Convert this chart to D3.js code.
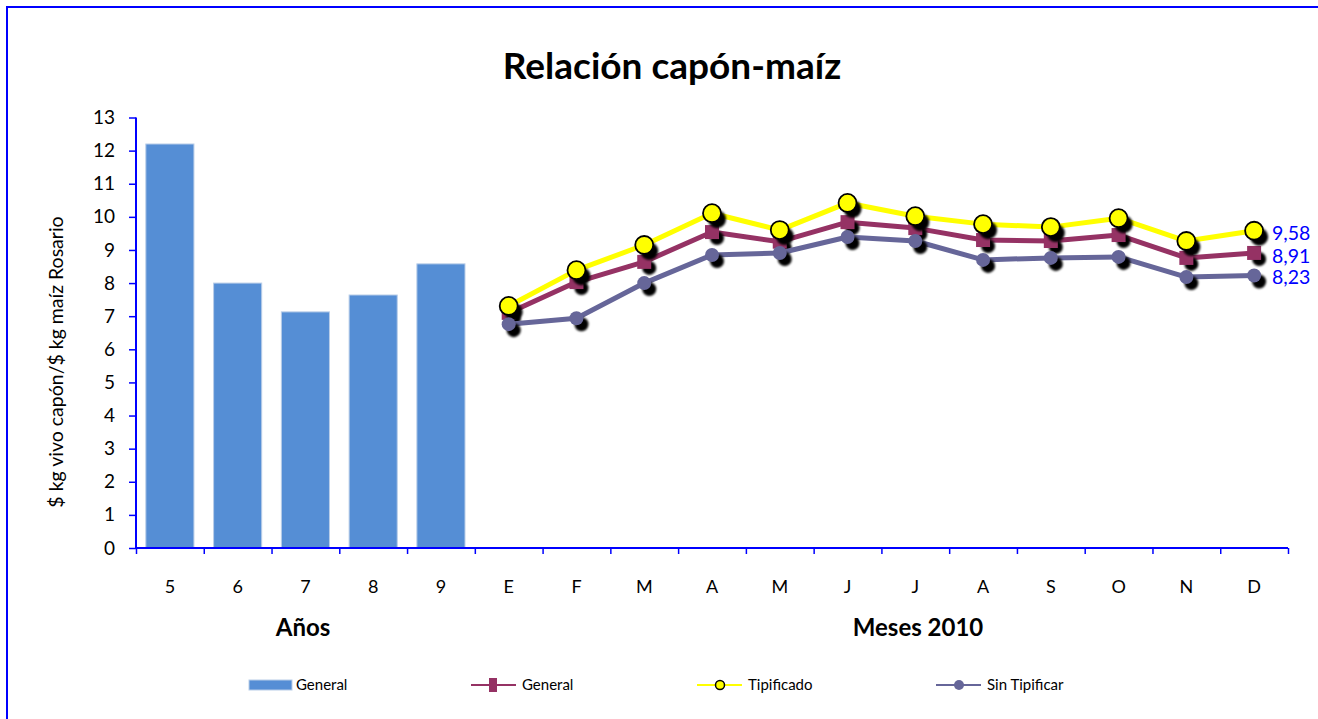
<!DOCTYPE html>
<html>
<head>
<meta charset="utf-8">
<style>
  body { margin: 0; background: #fff; overflow: hidden; }
  svg { display: block; }
  text { font-family: Lato, "Open Sans", sans-serif; }
</style>
</head>
<body>
<script src="https://cdn.jsdelivr.net/npm/d3@7/dist/d3.min.js"></script>
<script>
// data
const years = ["5", "6", "7", "8", "9"];
const yearValues = [12.2, 8.0, 7.13, 7.64, 8.58];
const months = ["E", "F", "M", "A", "M", "J", "J", "A", "S", "O", "N", "D"];
const general = [7.10, 8.03, 8.64, 9.54, 9.25, 9.84, 9.66, 9.30, 9.27, 9.45, 8.76, 8.91];
const tipificado = [7.31, 8.39, 9.15, 10.11, 9.60, 10.42, 10.02, 9.78, 9.69, 9.96, 9.27, 9.58];
const sinTipificar = [6.76, 6.94, 8.00, 8.85, 8.91, 9.39, 9.27, 8.70, 8.76, 8.79, 8.18, 8.23];
const yTicks = [0, 1, 2, 3, 4, 5, 6, 7, 8, 9, 10, 11, 12, 13];
const endLabels = ["9,58", "8,91", "8,23"];

const W = 1318, H = 719;
const plotLeft = 136, plotRight = 1288, plotTop = 117.5, plotBottom = 548;
const axisBlue = "#0000ff";

const svg = d3.select("body").append("svg")
    .attr("width", W)
    .attr("height", H);

const defs = svg.append("defs");
defs.append("filter").attr("id", "shadow")
    .attr("x", "-50%").attr("y", "-50%").attr("width", "200%").attr("height", "200%")
  .append("feGaussianBlur").attr("stdDeviation", 0.8);

// outer frame (only top and left edges fall inside the picture)
svg.append("path")
    .attr("d", `M7,${H + 5}V7H${W + 5}`)
    .attr("fill", "none")
    .attr("stroke", axisBlue)
    .attr("stroke-width", 2);

// clipped text above the frame
svg.append("text")
    .attr("x", 617).attr("y", -7)
    .attr("text-anchor", "middle")
    .attr("font-size", 24).attr("font-weight", "bold")
    .text("p");

const cats = years.concat(months);
const idx = d3.range(cats.length);

const x = d3.scaleBand().domain(idx).range([plotLeft, plotRight]).padding(0);
const xEdge = d3.scaleLinear().domain([0, cats.length]).range([plotLeft, plotRight]);
const y = d3.scaleLinear().domain([0, 13]).range([plotBottom, plotTop]);

// title
svg.append("text")
    .attr("x", 672).attr("y", 79)
    .attr("text-anchor", "middle")
    .attr("font-size", 37).attr("font-weight", "bold")
    .attr("fill", "#000")
    .text("Relación capón-maíz");

// bars
const barW = x.bandwidth() * 0.71;
svg.append("g").selectAll("rect")
    .data(yearValues)
    .join("rect")
    .attr("x", (d, i) => x(i) + (x.bandwidth() - barW) / 2)
    .attr("y", d => y(d))
    .attr("width", barW)
    .attr("height", d => y(0) - y(d))
    .attr("fill", "#558ed5")
    .attr("stroke", "#b9cde8")
    .attr("stroke-width", 1);

// y axis
const yAxis = svg.append("g")
    .attr("transform", `translate(${plotLeft},0)`)
    .call(d3.axisLeft(y).tickValues(yTicks).tickSize(7).tickPadding(14).tickFormat(d3.format("d")));
yAxis.select(".domain").attr("stroke", axisBlue).attr("stroke-width", 2)
    .attr("d", `M0,${plotTop}V${plotBottom}`);
yAxis.selectAll(".tick line").attr("stroke", axisBlue).attr("stroke-width", 1.5);
yAxis.selectAll(".tick text")
    .attr("font-family", "Lato, sans-serif")
    .attr("font-size", 19).attr("fill", "#000");

// x axis: ticks at category boundaries
const xAxis = svg.append("g")
    .attr("transform", `translate(0,${plotBottom})`)
    .call(d3.axisBottom(xEdge).tickValues(d3.range(cats.length + 1)).tickSize(6).tickFormat(""));
xAxis.select(".domain").attr("stroke", axisBlue).attr("stroke-width", 2)
    .attr("d", `M${plotLeft},0H${plotRight}`);
xAxis.selectAll(".tick line").attr("stroke", axisBlue).attr("stroke-width", 1.5);

svg.append("g").selectAll("text")
    .data(cats)
    .join("text")
    .attr("x", (d, i) => x(i) + x.bandwidth() / 2)
    .attr("y", 593)
    .attr("text-anchor", "middle")
    .attr("font-size", 18)
    .text(d => d);

// group titles
svg.append("text")
    .attr("x", 303)
    .attr("y", 636)
    .attr("text-anchor", "middle")
    .attr("font-size", 24).attr("font-weight", "bold")
    .text("Años");
svg.append("text")
    .attr("x", 918)
    .attr("y", 636)
    .attr("text-anchor", "middle")
    .attr("font-size", 24).attr("font-weight", "bold")
    .text("Meses 2010");

// y axis title
svg.append("text")
    .attr("transform", "translate(63,362) rotate(-90)")
    .attr("text-anchor", "middle")
    .attr("font-size", 19.5)
    .text("$ kg vivo capón/$ kg maíz Rosario");

// line series
const mx = i => x(years.length + i) + x.bandwidth() / 2;
const line = d3.line().x((d, i) => mx(i)).y(d => y(d));

const series = [
  {values: general, color: "#953264", shape: "square", size: 14},
  {values: tipificado, color: "#ffff00", shape: "circle", size: 9, stroke: "#000"},
  {values: sinTipificar, color: "#666699", shape: "circle", size: 7}
];

series.forEach(s => {
  const g = svg.append("g");
  g.append("path")
      .datum(s.values)
      .attr("fill", "none")
      .attr("stroke", s.color)
      .attr("stroke-width", 5)
      .attr("stroke-linejoin", "round")
      .attr("d", line);

  // marker shadows
  g.append("g").attr("filter", "url(#shadow)")
    .selectAll("circle")
    .data(s.values)
    .join("circle")
    .attr("cx", (d, i) => mx(i) + 5)
    .attr("cy", d => y(d) + 6)
    .attr("r", s.shape === "square" ? 7 : s.size)
    .attr("fill", "#000");

  if (s.shape === "square") {
    g.append("g").selectAll("rect")
        .data(s.values)
        .join("rect")
        .attr("x", (d, i) => mx(i) - s.size / 2)
        .attr("y", d => y(d) - s.size / 2)
        .attr("width", s.size)
        .attr("height", s.size)
        .attr("fill", s.color);
  } else {
    g.append("g").selectAll("circle")
        .data(s.values)
        .join("circle")
        .attr("cx", (d, i) => mx(i))
        .attr("cy", d => y(d))
        .attr("r", s.size)
        .attr("fill", s.color)
        .attr("stroke", s.stroke || "none")
        .attr("stroke-width", 1.8);
  }
});

// end-of-line labels
const labelY = [233, 256, 277];
svg.append("g").selectAll("text")
    .data(endLabels)
    .join("text")
    .attr("x", 1272)
    .attr("y", (d, i) => labelY[i] + 7)
    .attr("font-size", 19.5)
    .attr("fill", "#0000ff")
    .text(d => d);

// legend
const legY = 685;
const legend = svg.append("g").attr("font-size", 15);
legend.append("rect")
    .attr("x", 249).attr("y", legY - 5)
    .attr("width", 43).attr("height", 10)
    .attr("fill", "#558ed5").attr("stroke", "#b9cde8");
legend.append("text").attr("x", 296).attr("y", legY + 5).text("General");

const legItems = [
  {x0: 471, label: "General", color: "#953264", shape: "square"},
  {x0: 697, label: "Tipificado", color: "#ffff00", shape: "circle", r: 4.5, stroke: "#000"},
  {x0: 936, label: "Sin Tipificar", color: "#666699", shape: "circle", r: 5}
];
legItems.forEach(it => {
  legend.append("line")
      .attr("x1", it.x0).attr("x2", it.x0 + 45)
      .attr("y1", legY).attr("y2", legY)
      .attr("stroke", it.color).attr("stroke-width", 2);
  if (it.shape === "square") {
    legend.append("rect")
        .attr("x", it.x0 + 18).attr("y", legY - 7)
        .attr("width", 8).attr("height", 14)
        .attr("fill", it.color);
  } else {
    legend.append("circle")
        .attr("cx", it.x0 + 23).attr("cy", legY)
        .attr("r", it.r)
        .attr("fill", it.color)
        .attr("stroke", it.stroke || "none")
        .attr("stroke-width", 1.5);
  }
  legend.append("text").attr("x", it.x0 + 51).attr("y", legY + 5).text(it.label);
});
</script>
</body>
</html>
